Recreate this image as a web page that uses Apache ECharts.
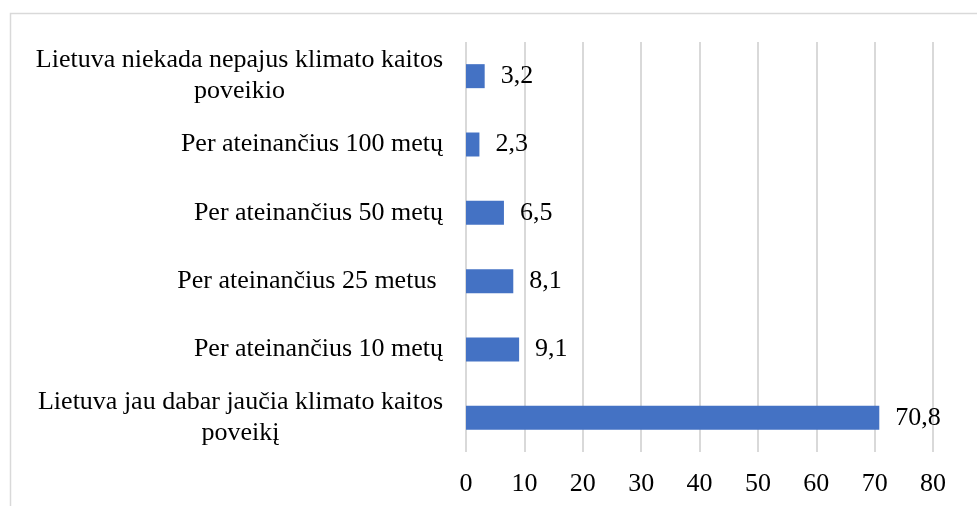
<!doctype html>
<html>
<head>
<meta charset="UTF-8">
<title>Klimato kaitos poveikis</title>
<script src="https://cdn.jsdelivr.net/npm/echarts@6/dist/echarts.min.js"></script>
<style>
html,body{margin:0;padding:0;background:#fff;}
#main{width:977px;height:506px;}
</style>
</head>
<body>
<div id="main"></div>
<script>
// kategorijos (iš apačios į viršų)
var categories = [
	'Lietuva jau dabar jaučia klimato kaitos\npoveikį',
	'Per ateinančius 10 metų',
	'Per ateinančius 25 metus ',
	'Per ateinančius 50 metų',
	'Per ateinančius 100 metų',
	'Lietuva niekada nepajus klimato kaitos\npoveikio'
];
var values = [70.8, 9.1, 8.1, 6.5, 2.3, 3.2];
var axisMin = 0, axisMax = 80, axisStep = 10;

var font = '"Liberation Serif", "Times New Roman", serif';
var myChart = echarts.init(document.getElementById('main'));
var option = {
	animation: false,
	textStyle: {fontFamily: font},
	graphic: [{
		type: 'rect',
		shape: {x: 10.5, y: 13.5, width: 1000, height: 600},
		style: {fill: null, stroke: '#d9d9d9', lineWidth: 1.5},
		silent: true
	}],
	grid: {left: 466, right: 44, top: 42, bottom: 54},
	xAxis: {
		type: 'value',
		min: axisMin, max: axisMax, interval: axisStep,
		axisLine: {show: false},
		axisTick: {show: false},
		axisLabel: {fontSize: 26, color: '#000', fontFamily: font, margin: 19},
		splitLine: {lineStyle: {color: '#d9d9d9', width: 2}}
	},
	yAxis: {
		type: 'category',
		data: categories,
		axisLine: {show: false},
		axisTick: {show: false},
		axisLabel: {
			margin: 23,
			align: 'right',
			formatter: function (v) {
				return v.split('\n').map(function (s) { return '{c|' + s + '}'; }).join('\n');
			},
			rich: {
				c: {fontSize: 26, lineHeight: 31, color: '#000', fontFamily: font, align: 'center'}
			}
		}
	},
	series: [{
		type: 'bar',
		data: values,
		barWidth: 24,
		itemStyle: {color: '#4472C4'},
		label: {
			show: true,
			position: 'right',
			distance: 16,
			fontSize: 26,
			color: '#000',
			fontFamily: font,
			formatter: function (p) { return String(p.value).replace('.', ','); }
		}
	}]
};
myChart.setOption(option);
</script>
</body>
</html>
